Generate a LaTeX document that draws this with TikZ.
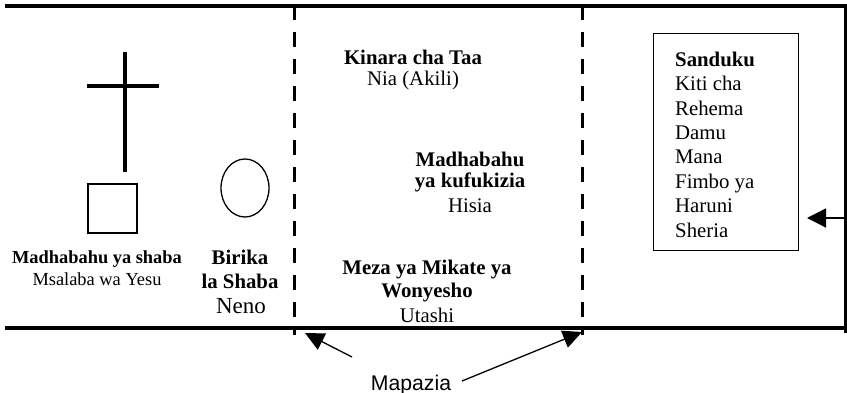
\documentclass[tikz,border=0pt]{standalone}
\usepackage{fontspec}
\setmainfont{Liberation Serif}
\newfontfamily\arialfont{Liberation Sans}
\usetikzlibrary{arrows.meta,shapes.geometric}
\tikzset{
  frameline/.style={line width=4pt},
  curtain/.style={line width=3pt, dash pattern=on 15pt off 12pt},
  lbl/.style={inner sep=0pt, anchor=base, font=\fontsize{20.8}{23}\selectfont},
  blbl/.style={lbl, font=\fontsize{20.8}{23}\selectfont\bfseries},
  pointer/.style={line width=1.3pt, -{Triangle[length=19pt,width=19pt]}},
}
\begin{document}
\begin{tikzpicture}[x=1pt,y=-1pt]
\useasboundingbox (0,0) rectangle (847,393);
% frame
\coordinate (tl) at (5,6);
\coordinate (tr) at (845,6);
\coordinate (br) at (845,333);
\coordinate (bl) at (5,328);
\coordinate (brl) at (845,328);
\draw[frameline] (tl) -- (tr);
\draw[frameline] (bl) -- (brl);
\draw[line width=3pt] (845,4) -- (br);
% curtains
\coordinate (c1t) at (294,5);
\coordinate (c1b) at (294,335);
\coordinate (c2t) at (582,5);
\coordinate (c2b) at (582,335);
\draw[curtain] (c1t) -- (c1b);
\draw[curtain] (c2t) -- (c2b);
% cross
\coordinate (cv1) at (125,52);
\coordinate (cv2) at (125,172);
\coordinate (ch1) at (87,86);
\coordinate (ch2) at (159,86);
\draw[line width=3.2pt] (cv1) -- (cv2);
\draw[line width=3.2pt] (ch1) -- (ch2);
% altar square
\node[draw, line width=1.3pt, minimum width=49pt, minimum height=49pt, inner sep=0pt] (altar) at (112.5,208.5) {};
% laver
\node[draw, ellipse, line width=1.3pt, minimum width=48pt, minimum height=58pt, inner sep=0pt] (laver) at (245,188) {};
% labels left
\node[lbl, font=\fontsize{18.4}{22}\selectfont\bfseries] (t1) at (97,263) {Madhabahu ya shaba};
\node[lbl, font=\fontsize{18.4}{22}\selectfont] (t2) at (97,285) {Msalaba wa Yesu};
\node[blbl] (t3) at (240,265) {Birika};
\node[blbl] (t4) at (240,288) {la Shaba};
\node[lbl, font=\fontsize{23}{26}\selectfont] (t5) at (241,313) {Neno};
% holy place
\node[blbl] (k1) at (413,65) {Kinara cha Taa};
\node[lbl] (k2) at (413,86) {Nia (Akili)};
\node[blbl] (m1) at (470,167) {Madhabahu};
\node[blbl] (m2) at (470,188) {ya kufukizia};
\node[lbl] (m3) at (470,213) {Hisia};
\node[blbl] (z1) at (427,275) {Meza ya Mikate ya};
\node[blbl] (z2) at (427,298) {Wonyesho};
\node[lbl] (z3) at (427,322) {Utashi};
% ark box
\node[draw, line width=1.3pt, minimum width=145pt, minimum height=217pt, inner sep=0pt, anchor=north west] (ark) at (653,33) {};
\node[inner sep=0pt, anchor=base west, align=left, font=\fontsize{20.8}{24.4}\selectfont] (arktext) at (675,237)
  {\textbf{Sanduku}\\Kiti cha\\Rehema\\Damu\\Mana\\Fimbo ya\\Haruni\\Sheria};
\coordinate (arkarrowstart) at (845,218);
\coordinate (arkarrowend) at (807,218);
\draw[pointer] (arkarrowstart) -- (arkarrowend);
% Mapazia
\node[inner sep=0pt, anchor=base, font=\arialfont\fontsize{21.2}{24}\selectfont] (map) at (411,390) {Mapazia};
\coordinate (a1s) at (352,357);
\coordinate (a1e) at (305,333);
\coordinate (a2s) at (462,381);
\coordinate (a2e) at (582,332);
\draw[pointer, -{Triangle[length=19pt,width=18pt]}] (a1s) -- (a1e);
\draw[pointer, -{Triangle[length=19pt,width=18pt]}] (a2s) -- (a2e);
\end{tikzpicture}
\end{document}
